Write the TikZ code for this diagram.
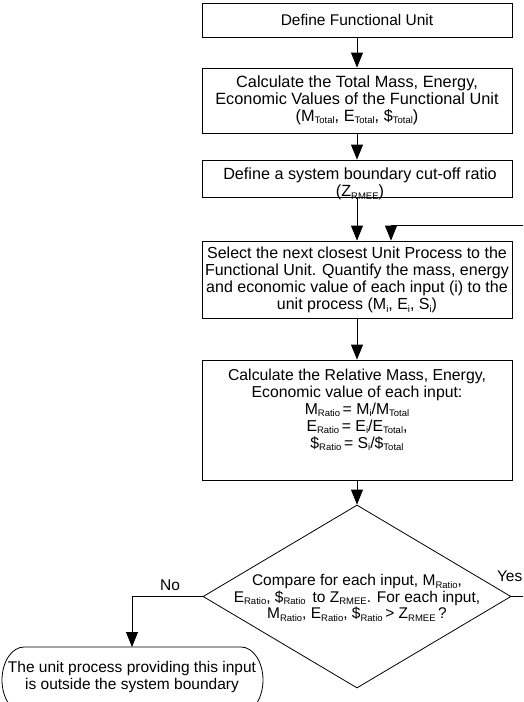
\documentclass[tikz,border=0pt]{standalone}
\usepackage{fontspec}
\setmainfont{Liberation Sans}
\usetikzlibrary{arrows.meta,shapes.geometric}
\newcommand{\lsub}[1]{\raisebox{-2.5pt}{\fontsize{9.5}{9.5}\selectfont #1}}
\begin{document}
\begin{tikzpicture}[x=1pt,y=-1pt,
  box/.style={draw, line width=0.8pt, minimum width=310pt, inner sep=0pt},
  txt/.style={align=center, font=\fontsize{15.5}{16.5}\selectfont, inner sep=0pt},
  fs/.style={font=\fontsize{#1}{17}\selectfont},
  lbl/.style={font=\fontsize{15.5}{16.5}\selectfont, inner sep=0pt},
  ln/.style={line width=0.8pt},
  arr/.style={line width=0.8pt, -{Triangle[width=12pt,length=15pt]}}]
\useasboundingbox (0,0) rectangle (523,702);
\clip (0,0) rectangle (523,702);

\node[box, minimum height=34pt] (b1) at (357,20) {};
\node[txt] (t1) at (357,20) {Define Functional Unit};

\node[box, minimum height=65pt] (b2) at (357,100.5) {};
\node[txt, fs=16.3] (t2) at (357,100) {Calculate the Total Mass, Energy,\\Economic Values of the Functional Unit\\(M\lsub{Total}, E\lsub{Total}, \$\lsub{Total})};

\node[box, minimum height=37pt] (b3) at (357,178.5) {};
\node[txt, fs=16.2] (t3) at (360,184) {Define a system boundary cut-off ratio\\(Z\lsub{RMEE})};

\node[box, minimum height=77pt] (b4) at (357,279.5) {};
\node[txt, fs=16] (t4) at (357,280) {Select the next closest Unit Process to the\\Functional Unit. Quantify the mass, energy\\and economic value of each input (i) to the\\unit process (M\lsub{i}, E\lsub{i}, S\lsub{i})};

\node[box, minimum height=120pt] (b5) at (357,420) {};
\node[txt, fs=15.8] (t5) at (357,410) {Calculate the Relative Mass, Energy,\\Economic value of each input:\\M\lsub{Ratio}\,= M\lsub{i}/M\lsub{Total}\\E\lsub{Ratio}\,= E\lsub{i}/E\lsub{Total},\\\$\lsub{Ratio}\,= S\lsub{i}/\$\lsub{Total}};

\node[diamond, draw, line width=0.8pt, minimum width=308pt, minimum height=183pt, inner sep=0pt] (d) at (357,596.5) {};
\node[txt] (td) at (357,598) {Compare for each input, M\lsub{Ratio},\\E\lsub{Ratio}, \$\lsub{Ratio}\, to Z\lsub{RMEE}. For each input,\\M\lsub{Ratio}, E\lsub{Ratio}, \$\lsub{Ratio}\,> Z\lsub{RMEE}\,?};

\draw[ln] (24,647) -- (241,647) arc[start angle=90, end angle=-90, x radius=22pt, y radius=33pt]
  -- (24,713) arc[start angle=-90, end angle=-270, x radius=22pt, y radius=33pt] -- cycle;
\coordinate (termtop) at (132,647);
\node[txt] (tt) at (132,677) {The unit process providing this input\\is outside the system boundary};

\node[lbl] (no) at (170,585) {No};
\node[lbl, anchor=east] (yes) at (522.5,576) {Yes};

\coordinate (fb) at (391,225);
\coordinate (fbs) at (540,225);
\coordinate (yesend) at (540,596.5);

\draw[arr] (b1) -- (b2);
\draw[arr] (b2) -- (b3);
\draw[arr] (b3) -- (b4);
\draw[ln] (fbs) -- (fb);
\draw[arr] (fb) -- (fb |- b4.north);
\draw[arr] (b4) -- (b5);
\draw[arr] (b5) -- (d.north);
\draw[arr] (d.west) -| (termtop);
\draw[ln] (d.east) -- (yesend);
\end{tikzpicture}
\end{document}
